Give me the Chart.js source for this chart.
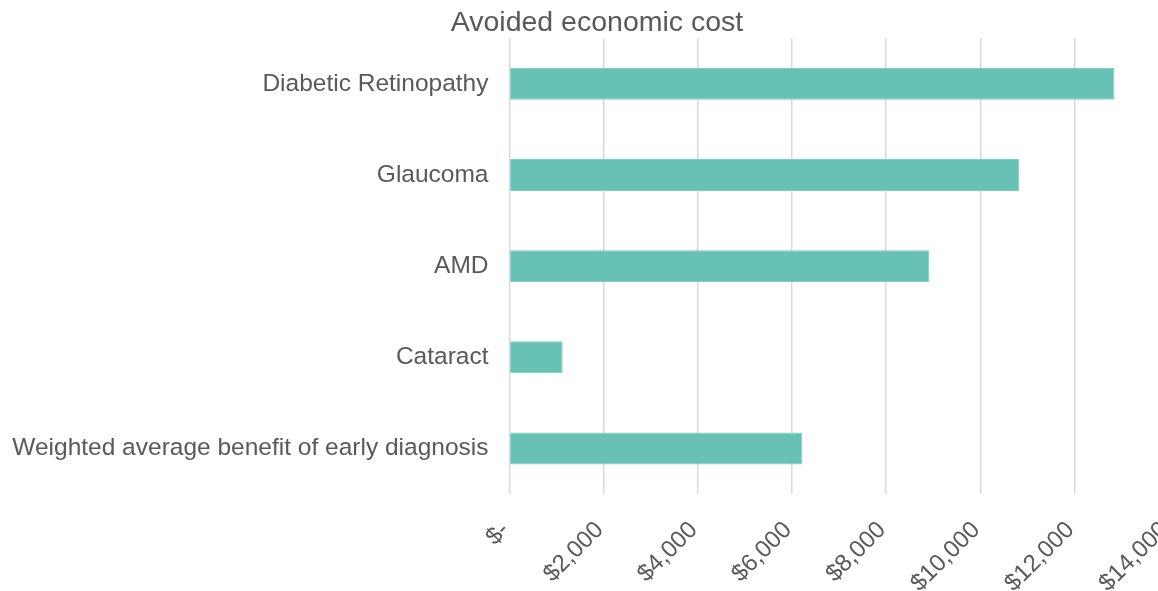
<!DOCTYPE html>
<html>
<head>
<meta charset="utf-8">
<script src="https://cdn.jsdelivr.net/npm/chart.js@4"></script>
<style>
	body { margin: 0; overflow: hidden; background: #fff; }
</style>
</head>
<body>
<canvas id="grafico" width="1194" height="591"></canvas>
<script>
// Categorias e valores (custo economico evitado, em dolares)
const categorias = ['Diabetic Retinopathy', 'Glaucoma', 'AMD', 'Cataract', 'Weighted average benefit of early diagnosis'];
const valores = [12850, 10830, 8920, 1130, 6220];
// Marcas do eixo x
const marcas = [0, 2000, 4000, 6000, 8000, 10000, 12000, 14000];

const cinza = '#595959';

// Formato contabil: zero vira "$-"
function moeda(v) {
	if (v === 0) return '$-';
	return '$' + v.toLocaleString('en-US');
}

// Centraliza o titulo na largura toda do canvas (ignora o padding da direita)
const tituloLargo = {
	id: 'tituloLargo',
	afterLayout(chart) {
		if (chart.titleBlock) {
			chart.titleBlock.left = 0;
			chart.titleBlock.right = chart.width;
		}
	}
};

let ctx = document.getElementById('grafico').getContext('2d');

let chart = new Chart(ctx, {
	type: 'bar',

	data: {
		labels: categorias,
		datasets: [{
			label: 'Avoided economic cost',
			data: valores,
			backgroundColor: '#67c1b4',
			borderColor: '#7fcdc1',
			borderWidth: 1,
			borderSkipped: 'start',
			categoryPercentage: 1,
			barPercentage: 0.35
		}]
	},

	plugins: [tituloLargo],

	options: {
		indexAxis: 'y',
		responsive: false,
		animation: false,
		layout: { padding: { left: 0, right: 25.4, top: 0, bottom: 0 } },
		plugins: {
			legend: { display: false },
			tooltip: { enabled: false },
			title: {
				display: true,
				text: 'Avoided economic cost',
				color: cinza,
				font: { family: 'Liberation Sans', size: 28.5, weight: 'normal', lineHeight: 1.1 },
				padding: { top: 7, bottom: 0 }
			}
		},
		scales: {
			x: {
				min: 0,
				max: 14000,
				afterBuildTicks: function (scale) {
					scale.ticks = marcas.map(v => ({ value: v }));
				},
				afterFit: function (scale) {
					scale.height = 97;
					scale.paddingLeft = 0;
					scale.paddingRight = 0;
				},
				grid: { color: '#d9d9d9', lineWidth: 1.5, drawTicks: false },
				border: { display: false },
				ticks: {
					color: cinza,
					font: { family: 'Liberation Sans', size: 24 },
					minRotation: 45,
					maxRotation: 45,
					padding: 22,
					labelOffset: -4,
					callback: function (v) { return moeda(v); }
				}
			},
			y: {
				afterFit: function (scale) { scale.width = 509.5; },
				grid: { display: false, drawTicks: false },
				border: { display: false },
				ticks: {
					color: cinza,
					font: { family: 'Liberation Sans', size: 24.5 },
					padding: 21
				}
			}
		}
	}
});
</script>
</body>
</html>
